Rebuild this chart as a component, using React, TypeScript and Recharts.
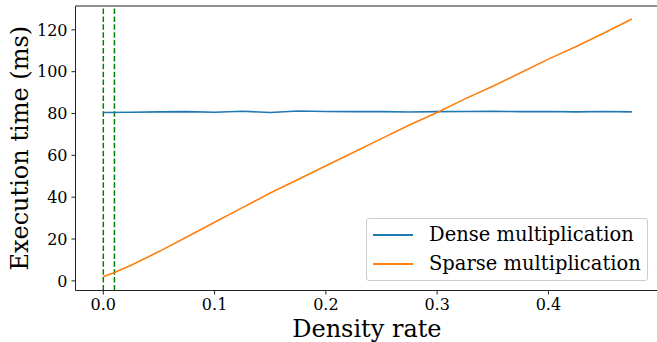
import React from 'react';
import { LineChart, Line, XAxis, YAxis, ReferenceLine, Label } from 'recharts';

const denseRates = [0, 0.025, 0.05, 0.075, 0.1, 0.125, 0.15, 0.175, 0.2, 0.225, 0.25, 0.275, 0.3, 0.325, 0.35, 0.375, 0.4, 0.425, 0.45, 0.475];
const denseTimes = [80.5, 80.6, 80.8, 80.9, 80.6, 81.1, 80.5, 81.2, 81.0, 80.9, 80.9, 80.7, 80.9, 81.0, 81.1, 80.9, 81.0, 80.8, 81.0, 80.8];
const sparseRates = [0, 0.01, 0.025, 0.05, 0.075, 0.1, 0.125, 0.15, 0.175, 0.2, 0.225, 0.25, 0.275, 0.3, 0.325, 0.35, 0.375, 0.4, 0.425, 0.45, 0.475];
const sparseTimes = [2.0, 4.0, 7.5, 14.0, 21.0, 28.0, 35.0, 42.0, 48.5, 55.0, 61.5, 68.0, 74.5, 80.5, 87.0, 93.0, 99.5, 106.0, 112.0, 118.5, 125.2];
const markerRates = [0, 0.01];
const xTicks = [0, 0.1, 0.2, 0.3, 0.4];
const yTicks = [0, 20, 40, 60, 80, 100, 120];
const seriesNames = ['Dense multiplication', 'Sparse multiplication'];
const xDomain = [-0.025, 0.49875];
const yDomain = [-4.6, 131.4];

const denseData = denseRates.map((r, i) => ({ rate: r, time: denseTimes[i] }));
const sparseData = sparseRates.map((r, i) => ({ rate: r, time: sparseTimes[i] }));

const FONT = '"DejaVu Serif", serif';
const BLUE = '#1f77b4';
const ORANGE = '#ff7f0e';
const SPINE = '#222';

const LegendBox = () => (
  <div
    style={{
      position: 'absolute',
      left: 366,
      top: 218,
      width: 282,
      height: 63,
      border: '1px solid #cccccc',
      borderRadius: 3,
      background: 'rgba(255,255,255,0.8)',
      fontFamily: FONT,
      fontSize: 19.5,
      color: '#000',
      boxSizing: 'border-box',
    }}
  >
    {seriesNames.map((name, i) => (
      <div key={name} style={{ position: 'absolute', left: 0, top: 1 + i * 29, height: 29, display: 'flex', alignItems: 'center' }}>
        <div style={{ marginLeft: 6, width: 40, height: 2, background: i === 0 ? BLUE : ORANGE }} />
        <span style={{ marginLeft: 16, whiteSpace: 'nowrap', lineHeight: '29px' }}>{name}</span>
      </div>
    ))}
  </div>
);

const YLabel = (props: any) => {
  const vb = props.viewBox || {};
  const cx = (vb.x || 0) + (vb.width || 0) - 55.5;
  const cy = (vb.y || 0) + (vb.height || 0) / 2;
  return (
    <text x={cx} y={cy} transform={`rotate(-90 ${cx} ${cy})`} textAnchor="middle" dominantBaseline="central" fontFamily={FONT} fontSize={24} fill="#000">
      Execution time (ms)
    </text>
  );
};

const XLabel = (props: any) => {
  const vb = props.viewBox || {};
  const cx = (vb.x || 0) + (vb.width || 0) / 2;
  return (
    <text x={cx} y={(vb.y || 0) + 46} textAnchor="middle" fontFamily={FONT} fontSize={24} fill="#000">
      Density rate
    </text>
  );
};

export default function App() {
  return (
    <div style={{ position: 'absolute', left: 0, top: 0, width: 657, height: 342, overflow: 'hidden', background: '#fff' }}>
      <div style={{ position: 'absolute', left: 0, top: 0, width: 662, height: 342 }}>
        <LineChart width={662} height={342} margin={{ top: 6, right: 3.7, bottom: 0, left: 0 }}>
          <XAxis
            xAxisId="main"
            dataKey="rate"
            type="number"
            domain={xDomain}
            ticks={xTicks}
            tickFormatter={(v: number) => v.toFixed(1)}
            height={51.5}
            tickSize={4}
            tickMargin={4}
            allowDataOverflow
            axisLine={{ stroke: SPINE, strokeWidth: 1 }}
            tickLine={{ stroke: SPINE, strokeWidth: 1 }}
            tick={{ fontFamily: FONT, fontSize: 16, fill: '#000' }}
          >
            <Label content={XLabel} />
          </XAxis>
          <YAxis
            dataKey="time"
            type="number"
            domain={yDomain}
            ticks={yTicks}
            width={75.5}
            tickSize={4}
            tickMargin={4}
            allowDataOverflow
            axisLine={{ stroke: SPINE, strokeWidth: 1 }}
            tickLine={{ stroke: SPINE, strokeWidth: 1 }}
            tick={{ fontFamily: FONT, fontSize: 16, fill: '#000' }}
          >
            <Label content={YLabel} />
          </YAxis>
          <ReferenceLine xAxisId="main" y={yDomain[1]} stroke={SPINE} strokeWidth={1} />
          {markerRates.map((r) => (
            <ReferenceLine key={r} xAxisId="main" x={r} stroke="#008000" strokeWidth={1.5} strokeDasharray="5.5 2.4" />
          ))}
          <Line xAxisId="main" data={denseData} dataKey="time" type="linear" stroke={BLUE} strokeWidth={1.6} dot={false} isAnimationActive={false} />
          <Line xAxisId="main" data={sparseData} dataKey="time" type="linear" stroke={ORANGE} strokeWidth={1.6} dot={false} isAnimationActive={false} />
        </LineChart>
      </div>
      <LegendBox />
    </div>
  );
}
